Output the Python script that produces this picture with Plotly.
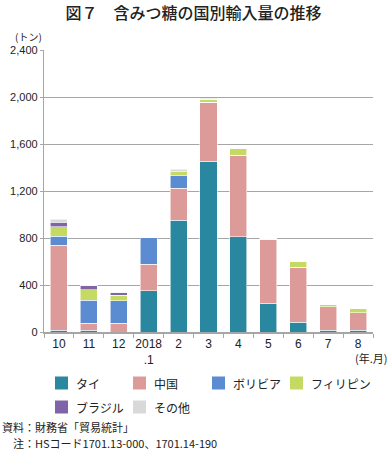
import plotly.graph_objects as go

categories = ["10", "11", "12", "2018<br>.1", "2", "3", "4", "5", "6", "7", "8"]
thai = [14, 14, 0, 349, 949, 1453, 809, 244, 82, 14, 14]
china = [724, 60, 74, 228, 275, 504, 697, 545, 468, 199, 148]
bolivia = [77, 196, 190, 230, 105, 0, 0, 0, 0, 0, 0]
philippines = [80, 88, 48, 0, 34, 26, 60, 11, 51, 25, 34]
brazil = [39, 37, 20, 0, 0, 0, 0, 0, 0, 0, 0]
other = [26, 5, 6, 0, 23, 7, 0, 0, 0, 0, 0]

series_names = ["タイ", "中国", "ボリビア", "フィリピン", "ブラジル", "その他"]
series_values = [thai, china, bolivia, philippines, brazil, other]
colors = ["#2A87A0", "#DC9A98", "#5B8BD0", "#C5DA62", "#8064A8", "#D9D9D9"]

y_ticks = [0, 400, 800, 1200, 1600, 2000, 2400]

FONT = "Liberation Sans, Arial, Noto Sans CJK JP, sans-serif"
JFONT = "Noto Sans CJK JP, sans-serif"

# plot area geometry (pixels)
L, R, T, B = 44, 14, 50, 118
W, H = 387, 450
PW, PH = W - L - R, H - T - B


def px(x):
    return (x - L) / PW


def py(y):
    return (H - B - y) / PH


fig = go.Figure()
for name, vals, col in zip(series_names, series_values, colors):
    fig.add_trace(go.Bar(
        x=categories, y=vals, name=name,
        marker=dict(color=col, line=dict(color="rgba(255,255,255,0.7)", width=0.8)),
        showlegend=False,
    ))

fig.update_layout(
    width=W, height=H,
    barmode="stack", bargap=0.43,
    plot_bgcolor="white", paper_bgcolor="white",
    margin=dict(l=L, r=R, t=T, b=B, autoexpand=False),
    font=dict(family=FONT, size=12, color="#222"),
    title=dict(text="図７　含みつ糖の国別輸入量の推移", x=0.5, xref="container", xanchor="center",
               y=1 - 13 / 450, yref="container", yanchor="middle",
               font=dict(family=JFONT, size=16, color="#222", weight=500)),
    showlegend=False,
)

fig.update_yaxes(
    range=[0, 2400], tickvals=y_ticks, tickformat=",",
    showgrid=True, gridcolor="#A6A6A6", gridwidth=1.3,
    showline=True, linecolor="#A6A6A6", linewidth=1.3,
    ticks="outside", ticklen=3, tickcolor="#A6A6A6",
    tickfont=dict(family=FONT, size=11, color="#222"),
    zeroline=False, automargin=False,
)
fig.update_xaxes(
    type="category", showline=True, linecolor="#A6A6A6", linewidth=1.5,
    ticks="outside", ticklen=4, tickcolor="#A6A6A6", tickson="boundaries",
    tickangle=0, tickfont=dict(family=FONT, size=12, color="#222"),
    automargin=False,
)

# legend (drawn manually to match the reference layout)
legend_pos = [(55, 383), (133, 383), (212, 383), (290, 383), (55, 407), (133, 407)]
for name, col, (lx, ly) in zip(series_names, colors, legend_pos):
    fig.add_shape(type="rect", xref="paper", yref="paper",
                  x0=px(lx), x1=px(lx + 13), y0=py(ly + 6.5), y1=py(ly - 6.5),
                  fillcolor=col, line=dict(width=0))
    fig.add_annotation(text=name, xref="paper", yref="paper", x=px(lx + 19), y=py(ly),
                       xanchor="left", yanchor="middle", showarrow=False,
                       font=dict(family=JFONT, size=12, color="#222"))

fig.add_annotation(text="(トン)", xref="paper", yref="paper", x=px(28), y=py(36),
                   xanchor="center", yanchor="middle",
                   showarrow=False, font=dict(family=JFONT, size=10, color="#222"))
fig.add_annotation(text="(年.月)", xref="paper", yref="paper", x=px(371), y=py(358),
                   xanchor="center", yanchor="middle",
                   showarrow=False, font=dict(family=JFONT, size=11, color="#222"))
fig.add_annotation(text="資料：財務省「貿易統計」", xref="paper", yref="paper",
                   x=px(0), y=py(427), xanchor="left", yanchor="middle",
                   showarrow=False, font=dict(family=JFONT, size=11, color="#222"))
fig.add_annotation(text="　注：HSコード1701.13-000、1701.14-190", xref="paper", yref="paper",
                   x=px(0), y=py(443), xanchor="left", yanchor="middle",
                   showarrow=False, font=dict(family=JFONT, size=11, color="#222"))

fig.write_html("out.html", config={"displayModeBar": False},
               post_script="document.body.style.margin='0';")
